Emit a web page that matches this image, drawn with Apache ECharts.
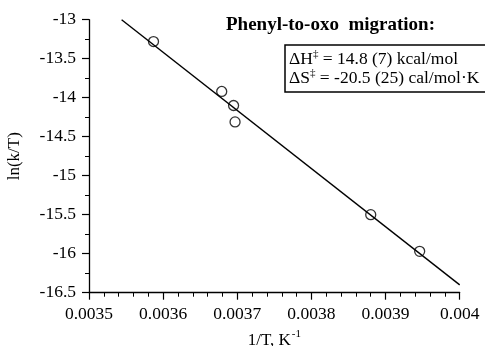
<!DOCTYPE html>
<html><head><meta charset="utf-8">
<script src="https://cdn.jsdelivr.net/npm/echarts@6/dist/echarts.min.js"></script>
<style>html,body{margin:0;padding:0;background:#fff}#c{width:485px;height:346px}</style>
</head><body><div id="c"></div>
<script>
const invT = [0.003587, 0.003679, 0.003695, 0.003697, 0.00388, 0.003946];
const lnkT = [-13.28, -13.92, -14.10, -14.31, -15.50, -15.97];
const fitX = [0.003544, 0.004];
const fitY = [-13.0, -16.40];
const titleText = 'Phenyl-to-oxo  migration:';
const line1 = ['ΔH', '‡', ' = 14.8 (7) kcal/mol'];
const line2 = ['ΔS', '‡', ' = -20.5 (25) cal/mol·K'];

const font = 'Liberation Serif, Times New Roman, serif';
const chart = echarts.init(document.getElementById('c'));
const rt = l => '{a|' + l[0] + '}{s|' + l[1] + '}{a|' + l[2] + '}';
chart.setOption({
  animation: false,
  backgroundColor: '#fff',
  grid: {left: 89, right: 25.3, top: 19.7, bottom: 53.3, containLabel: false, outerBoundsMode: 'none'},
  xAxis: {
    type: 'value', min: 0.0035, max: 0.004, interval: 0.0001,
    name: '{a|1/T, K}{s|-1}', nameLocation: 'middle', nameGap: 33,
    nameTextStyle: {fontFamily: font, fontSize: 17, color: '#000',
      rich: {a: {fontFamily: font, fontSize: 17, color: '#000', lineHeight: 20, verticalAlign: 'bottom'},
             s: {fontFamily: font, fontSize: 11, color: '#000', lineHeight: 20, verticalAlign: 'top', padding: [0, 0, 0, 1]}}},
    axisLine: {show: true, onZero: false, lineStyle: {color: '#000', width: 1.3}},
    axisTick: {show: true, inside: false, length: 7, lineStyle: {color: '#000', width: 1.2}},
    minorTick: {show: true, splitNumber: 5, length: 4, lineStyle: {color: '#000', width: 1}},
    splitLine: {show: false},
    axisLabel: {fontFamily: font, fontSize: 17.5, color: '#000', margin: 13,
      formatter: v => String(parseFloat(v.toFixed(5)))}
  },
  yAxis: {
    type: 'value', min: -16.5, max: -13, interval: 0.5,
    name: 'ln(k/T)', nameLocation: 'middle', nameGap: 66, nameRotate: 90,
    nameTextStyle: {fontFamily: font, fontSize: 17, color: '#000'},
    axisLine: {show: true, onZero: false, lineStyle: {color: '#000', width: 1.3}},
    axisTick: {show: true, inside: false, length: 7, lineStyle: {color: '#000', width: 1.2}},
    minorTick: {show: true, splitNumber: 2, length: 4, lineStyle: {color: '#000', width: 1}},
    splitLine: {show: false},
    axisLabel: {fontFamily: font, fontSize: 17.5, color: '#000', margin: 13}
  },
  series: [
    {type: 'line', data: fitX.map((x, i) => [x, fitY[i]]), symbol: 'none',
     lineStyle: {color: '#000', width: 1.4}, silent: true, z: 2},
    {type: 'scatter', data: invT.map((x, i) => [x, lnkT[i]]), symbol: 'circle', symbolSize: 10,
     itemStyle: {color: 'rgba(255,255,255,0)', borderColor: '#000', borderWidth: 1.3}, z: 3}
  ],
  graphic: [
    {type: 'text', left: 226, top: 16, style: {text: titleText, font: 'bold 19px ' + font, fill: '#000'}},
    {type: 'rect', shape: {x: 285, y: 45, width: 210, height: 47},
     style: {fill: '#fff', stroke: '#000', lineWidth: 1.5}},
    {type: 'text', left: 289, top: 49, style: {
      text: rt(line1) + '\n' + rt(line2),
      rich: {a: {font: '17.5px ' + font, fill: '#000', lineHeight: 19, verticalAlign: 'bottom'},
             s: {font: '11px ' + font, fill: '#000', lineHeight: 19, verticalAlign: 'top'}}}}
  ]
});
</script></body></html>
